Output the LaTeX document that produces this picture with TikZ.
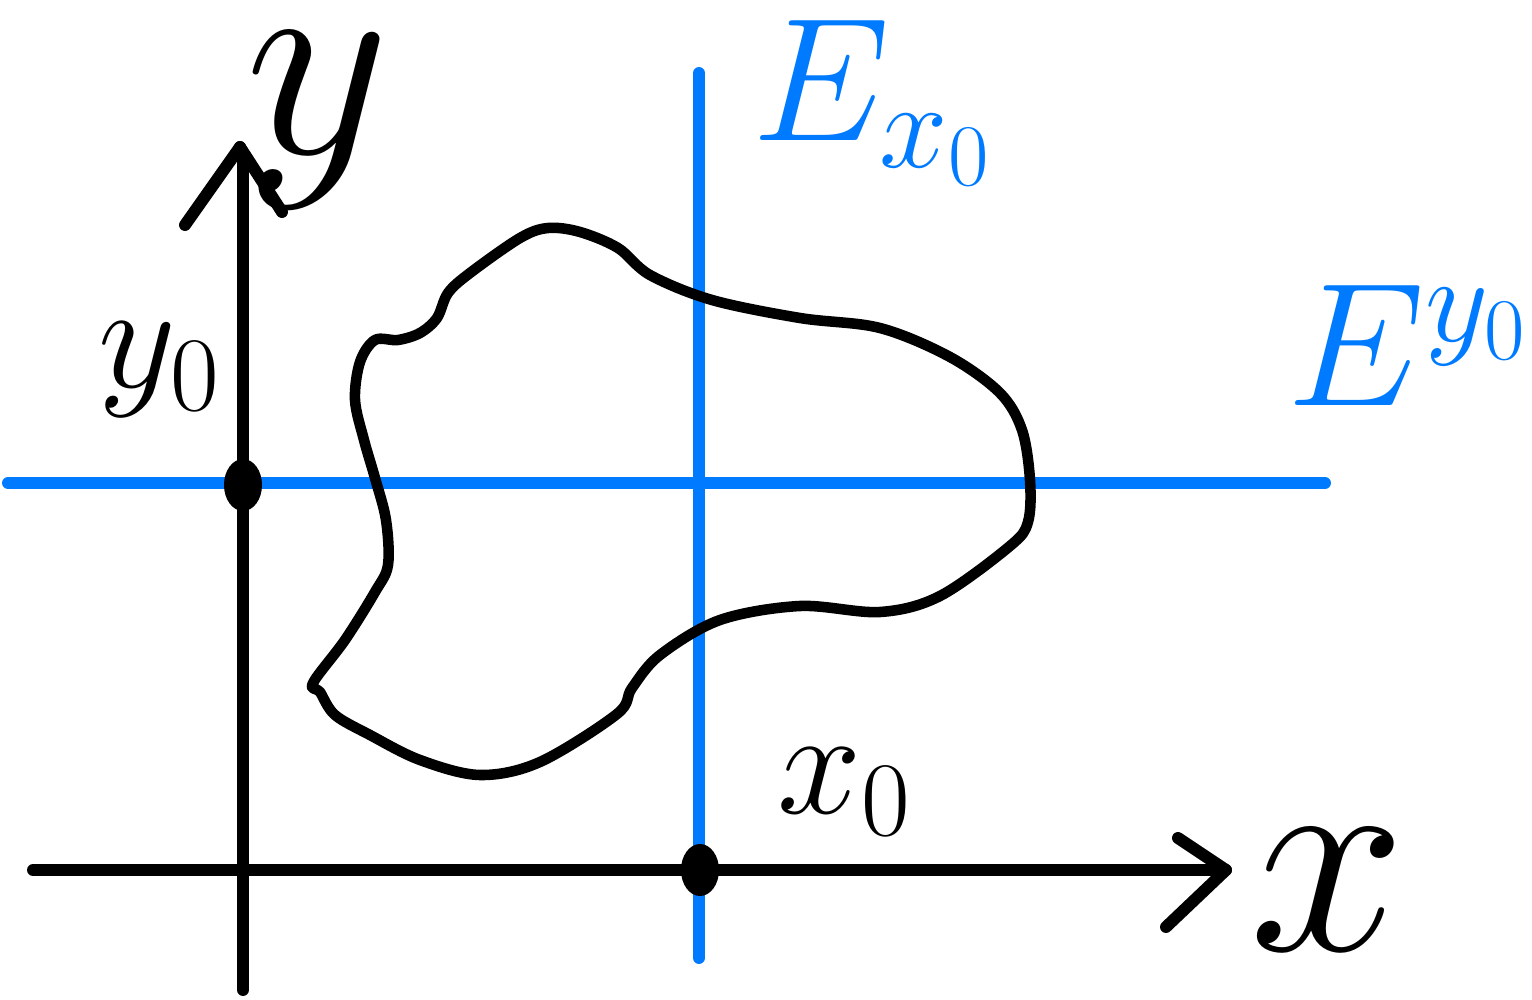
\RequirePackage{fix-cm}
\documentclass[tikz,border=0pt]{standalone}
\usepackage{amsmath}
\usetikzlibrary{shapes.geometric}

\definecolor{penblue}{RGB}{0,122,255}

\begin{document}
\begin{tikzpicture}[x=0.01cm, y=-0.01cm,
    stroke/.style={line width=3.4pt, line cap=round, line join=round},
    dot/.style={ellipse, fill, inner sep=0pt, minimum width=0.38cm, minimum height=0.52cm},
    bigtext/.style={font=\fontsize{80}{80}\selectfont, inner sep=0pt, text height=36pt, text depth=16pt},
    midtext/.style={font=\fontsize{50}{50}\selectfont},
    subtext/.style={font=\fontsize{43}{43}\selectfont}]
  \useasboundingbox (0,0) rectangle (1532,1000);
  \coordinate (ytop) at (240,147);
  \coordinate (ybot) at (243,990);
  \coordinate (xleft) at (33,870);
  \coordinate (xright) at (1226,870);
  \coordinate (hleft) at (8,483);
  \coordinate (hright) at (1325,483);
  \coordinate (vtop) at (699,73);
  \coordinate (vbot) at (699,958);
  \draw[stroke, penblue] (hleft) -- (hright);
  \draw[stroke, penblue] (vtop) -- (vbot);
  \draw[stroke] (ybot) -- (243,160) -- (ytop);
  \draw[stroke] (xleft) -- (xright);
  \draw[stroke] (ytop) ++(-55,78) -- (ytop) -- ++(42,65);
  \draw[stroke] (xright) ++(-48,-32) -- (xright) -- ++(-60,57);
  \draw[line width=3pt, line join=round]
    plot[smooth cycle, tension=0.55] coordinates {
      (313,683) (345,640) (375,592) (388,565) (386,520) (375,478)
      (364,440) (355,400) (360,362) (375,340) (398,340) (420,333)
      (437,318) (448,293) (470,273) (520,238) (548,228) (580,232)
      (618,248) (650,275) (712,300) (800,318) (880,328) (950,357)
      (1000,393) (1022,430) (1030,480) (1028,522) (1010,546) (940,596)
      (880,612) (800,606) (720,620) (660,655) (632,688) (617,714)
      (540,762) (480,775) (420,760) (370,735) (335,715) (320,692)};
  \node[dot] (ydot) at (243,485) {};
  \node[dot] (xdot) at (700,870) {};
  \node[bigtext] (ylabel) at (318,118) {$y$};
  \node[bigtext] (xlabel) at (1328,915) {$x$};
  \node[subtext] (yzero) at (160,370) {$y_0$};
  \node[subtext] (xzero) at (845,792) {$x_0$};
  \node[midtext, penblue] (ex) at (872,103) {$E_{x_0}$};
  \node[midtext, penblue] (ey) at (1408,345) {$E^{y_0}$};
\end{tikzpicture}
\end{document}
